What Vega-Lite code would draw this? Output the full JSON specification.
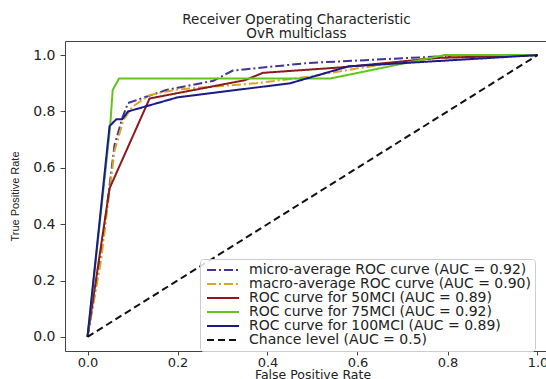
{
  "$schema": "https://vega.github.io/schema/vega-lite/v6.json",
  "autosize": "none",
  "width": 495,
  "height": 310,
  "padding": {"left": 65, "top": 41, "right": 0, "bottom": 28},
  "background": "white",
  "config": {
    "view": {"stroke": "#444", "strokeWidth": 1},
    "font": "DejaVu Sans"
  },
  "title": {
    "text": ["Receiver Operating Characteristic", "OvR multiclass"],
    "font": "DejaVu Sans",
    "fontSize": 13.5,
    "fontWeight": "normal",
    "lineHeight": 13.5,
    "color": "#222",
    "anchor": "middle",
    "dx": -16,
    "offset": 1
  },
  "data": {
    "values": [
      {"series": "micro-average ROC curve (AUC = 0.92)", "o": 0, "fpr": 0.0, "tpr": 0.0},
      {"series": "micro-average ROC curve (AUC = 0.92)", "o": 1, "fpr": 0.03, "tpr": 0.29},
      {"series": "micro-average ROC curve (AUC = 0.92)", "o": 2, "fpr": 0.06, "tpr": 0.68},
      {"series": "micro-average ROC curve (AUC = 0.92)", "o": 3, "fpr": 0.078, "tpr": 0.78},
      {"series": "micro-average ROC curve (AUC = 0.92)", "o": 4, "fpr": 0.09, "tpr": 0.83},
      {"series": "micro-average ROC curve (AUC = 0.92)", "o": 5, "fpr": 0.175, "tpr": 0.876},
      {"series": "micro-average ROC curve (AUC = 0.92)", "o": 6, "fpr": 0.28, "tpr": 0.909},
      {"series": "micro-average ROC curve (AUC = 0.92)", "o": 7, "fpr": 0.323, "tpr": 0.945},
      {"series": "micro-average ROC curve (AUC = 0.92)", "o": 8, "fpr": 0.49, "tpr": 0.972},
      {"series": "micro-average ROC curve (AUC = 0.92)", "o": 9, "fpr": 0.78, "tpr": 0.995},
      {"series": "micro-average ROC curve (AUC = 0.92)", "o": 10, "fpr": 1.0, "tpr": 1.0},
      {"series": "macro-average ROC curve (AUC = 0.90)", "o": 0, "fpr": 0.0, "tpr": 0.0},
      {"series": "macro-average ROC curve (AUC = 0.90)", "o": 1, "fpr": 0.03, "tpr": 0.27},
      {"series": "macro-average ROC curve (AUC = 0.90)", "o": 2, "fpr": 0.06, "tpr": 0.66},
      {"series": "macro-average ROC curve (AUC = 0.90)", "o": 3, "fpr": 0.08, "tpr": 0.77},
      {"series": "macro-average ROC curve (AUC = 0.90)", "o": 4, "fpr": 0.1, "tpr": 0.817},
      {"series": "macro-average ROC curve (AUC = 0.90)", "o": 5, "fpr": 0.138, "tpr": 0.858},
      {"series": "macro-average ROC curve (AUC = 0.90)", "o": 6, "fpr": 0.2, "tpr": 0.878},
      {"series": "macro-average ROC curve (AUC = 0.90)", "o": 7, "fpr": 0.375, "tpr": 0.9},
      {"series": "macro-average ROC curve (AUC = 0.90)", "o": 8, "fpr": 0.49, "tpr": 0.923},
      {"series": "macro-average ROC curve (AUC = 0.90)", "o": 9, "fpr": 0.6, "tpr": 0.953},
      {"series": "macro-average ROC curve (AUC = 0.90)", "o": 10, "fpr": 0.78, "tpr": 0.994},
      {"series": "macro-average ROC curve (AUC = 0.90)", "o": 11, "fpr": 1.0, "tpr": 1.0},
      {"series": "ROC curve for 50MCI (AUC = 0.89)", "o": 0, "fpr": 0.0, "tpr": 0.0},
      {"series": "ROC curve for 50MCI (AUC = 0.89)", "o": 1, "fpr": 0.049, "tpr": 0.527},
      {"series": "ROC curve for 50MCI (AUC = 0.89)", "o": 2, "fpr": 0.138, "tpr": 0.846},
      {"series": "ROC curve for 50MCI (AUC = 0.89)", "o": 3, "fpr": 0.35, "tpr": 0.911},
      {"series": "ROC curve for 50MCI (AUC = 0.89)", "o": 4, "fpr": 0.39, "tpr": 0.937},
      {"series": "ROC curve for 50MCI (AUC = 0.89)", "o": 5, "fpr": 0.56, "tpr": 0.956},
      {"series": "ROC curve for 50MCI (AUC = 0.89)", "o": 6, "fpr": 0.78, "tpr": 0.99},
      {"series": "ROC curve for 50MCI (AUC = 0.89)", "o": 7, "fpr": 1.0, "tpr": 1.0},
      {"series": "ROC curve for 75MCI (AUC = 0.92)", "o": 0, "fpr": 0.0, "tpr": 0.0},
      {"series": "ROC curve for 75MCI (AUC = 0.92)", "o": 1, "fpr": 0.05, "tpr": 0.74},
      {"series": "ROC curve for 75MCI (AUC = 0.92)", "o": 2, "fpr": 0.056, "tpr": 0.876},
      {"series": "ROC curve for 75MCI (AUC = 0.92)", "o": 3, "fpr": 0.07, "tpr": 0.917},
      {"series": "ROC curve for 75MCI (AUC = 0.92)", "o": 4, "fpr": 0.54, "tpr": 0.917},
      {"series": "ROC curve for 75MCI (AUC = 0.92)", "o": 5, "fpr": 0.793, "tpr": 1.0},
      {"series": "ROC curve for 75MCI (AUC = 0.92)", "o": 6, "fpr": 1.0, "tpr": 1.0},
      {"series": "ROC curve for 100MCI (AUC = 0.89)", "o": 0, "fpr": 0.0, "tpr": 0.0},
      {"series": "ROC curve for 100MCI (AUC = 0.89)", "o": 1, "fpr": 0.049, "tpr": 0.748},
      {"series": "ROC curve for 100MCI (AUC = 0.89)", "o": 2, "fpr": 0.064, "tpr": 0.772},
      {"series": "ROC curve for 100MCI (AUC = 0.89)", "o": 3, "fpr": 0.077, "tpr": 0.772},
      {"series": "ROC curve for 100MCI (AUC = 0.89)", "o": 4, "fpr": 0.09, "tpr": 0.8},
      {"series": "ROC curve for 100MCI (AUC = 0.89)", "o": 5, "fpr": 0.2, "tpr": 0.85},
      {"series": "ROC curve for 100MCI (AUC = 0.89)", "o": 6, "fpr": 0.45, "tpr": 0.9},
      {"series": "ROC curve for 100MCI (AUC = 0.89)", "o": 7, "fpr": 0.58, "tpr": 0.96},
      {"series": "ROC curve for 100MCI (AUC = 0.89)", "o": 8, "fpr": 1.0, "tpr": 1.0},
      {"series": "Chance level (AUC = 0.5)", "o": 0, "fpr": 0.0, "tpr": 0.0},
      {"series": "Chance level (AUC = 0.5)", "o": 1, "fpr": 1.0, "tpr": 1.0}
    ]
  },
  "mark": {"type": "line", "strokeWidth": 2, "clip": true},
  "encoding": {
    "x": {
      "field": "fpr", "type": "quantitative",
      "scale": {"domain": [-0.05, 1.05], "nice": false, "zero": false},
      "axis": {
        "title": "False Positive Rate",
        "values": [0, 0.2, 0.4, 0.6, 0.8, 1.0],
        "format": ".1f",
        "grid": false,
        "domain": false,
        "tickSize": 4,
        "tickColor": "#444",
        "labelFont": "DejaVu Sans",
        "labelFontSize": 13,
        "labelColor": "#222",
        "labelPadding": 1,
        "titleFont": "DejaVu Sans",
        "titleFontSize": 12.5,
        "titleFontWeight": "normal",
        "titleColor": "#222",
        "titleBaseline": "alphabetic",
        "titleY": 27
      }
    },
    "y": {
      "field": "tpr", "type": "quantitative",
      "scale": {"domain": [-0.05, 1.05], "nice": false, "zero": false},
      "axis": {
        "title": "True Positive Rate",
        "values": [0, 0.2, 0.4, 0.6, 0.8, 1.0],
        "format": ".1f",
        "grid": false,
        "domain": false,
        "tickSize": 5,
        "tickColor": "#444",
        "labelFont": "DejaVu Sans",
        "labelFontSize": 14,
        "labelColor": "#222",
        "labelPadding": 5,
        "titleFont": "Liberation Sans Narrow, Liberation Sans",
        "titleFontSize": 11,
        "titleFontWeight": "normal",
        "titleColor": "#222",
        "titleBaseline": "middle",
        "titleX": -50
      }
    },
    "color": {
      "field": "series", "type": "nominal",
      "scale": {
        "domain": [
          "micro-average ROC curve (AUC = 0.92)",
          "macro-average ROC curve (AUC = 0.90)",
          "ROC curve for 50MCI (AUC = 0.89)",
          "ROC curve for 75MCI (AUC = 0.92)",
          "ROC curve for 100MCI (AUC = 0.89)",
          "Chance level (AUC = 0.5)"
        ],
        "range": ["#40349a", "#daa520", "#8b1a1a", "#62c41a", "#1a1a8a", "#111111"]
      },
      "legend": {
        "title": null,
        "orient": "none",
        "legendX": 135,
        "legendY": 218,
        "symbolType": "M-1,0H7",
        "symbolSize": 64,
        "symbolStrokeWidth": 2,
        "labelFont": "DejaVu Sans",
        "labelFontSize": 14,
        "labelColor": "#222",
        "labelOffset": 31,
        "labelLimit": 400,
        "rowPadding": 0,
        "padding": 4,
        "strokeColor": "#cccccc",
        "fillColor": "rgba(255,255,255,0.85)",
        "cornerRadius": 3
      }
    },
    "strokeDash": {
      "field": "series", "type": "nominal",
      "scale": {
        "domain": [
          "micro-average ROC curve (AUC = 0.92)",
          "macro-average ROC curve (AUC = 0.90)",
          "ROC curve for 50MCI (AUC = 0.89)",
          "ROC curve for 75MCI (AUC = 0.92)",
          "ROC curve for 100MCI (AUC = 0.89)",
          "Chance level (AUC = 0.5)"
        ],
        "range": [[9, 3, 2, 3], [9, 3, 2, 3], [1, 0], [1, 0], [1, 0], [7, 4]]
      },
      "legend": null
    },
    "order": {"field": "o", "type": "quantitative"}
  }
}
